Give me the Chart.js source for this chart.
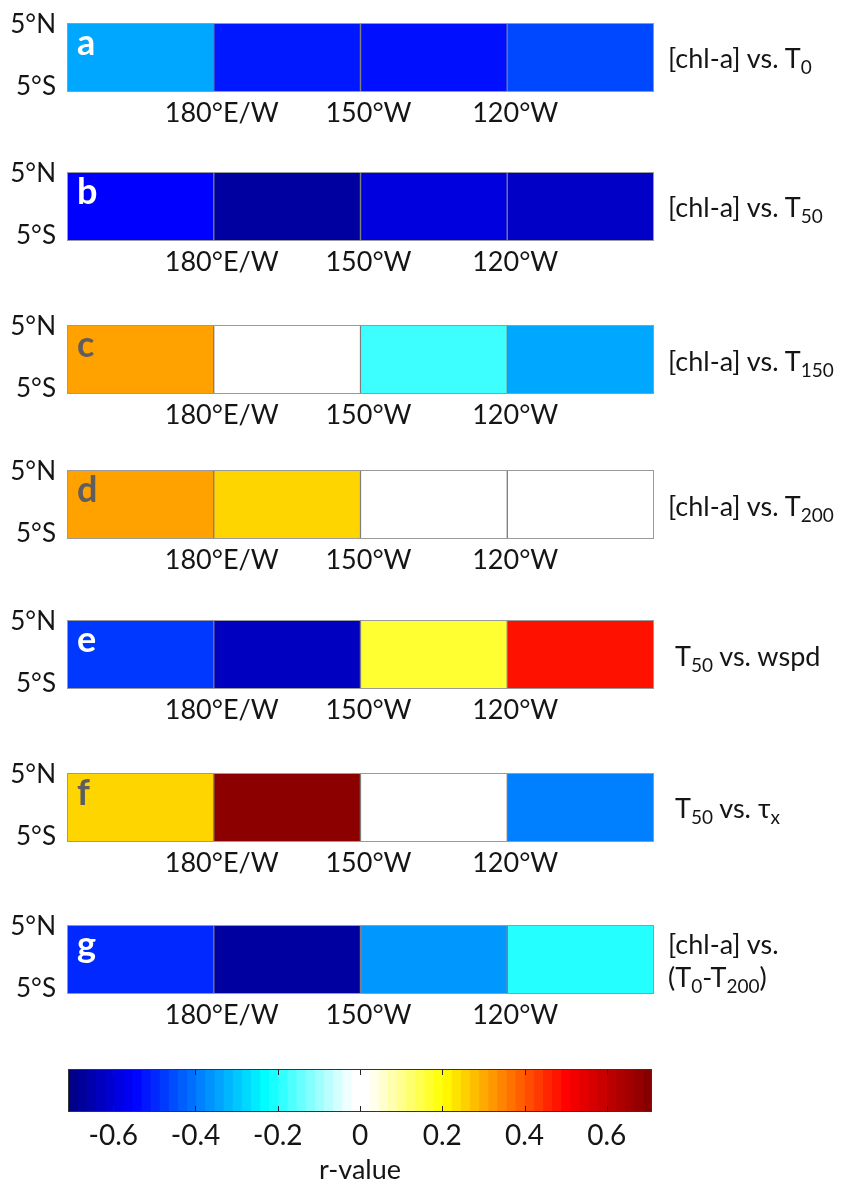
<!DOCTYPE html>
<html>
<head>
<meta charset="utf-8">
<script src="https://cdn.jsdelivr.net/npm/chart.js@4.4.0/dist/chart.umd.min.js"></script>
<style>
  body { margin: 0; background: #ffffff; font-family: Lato, "Open Sans", sans-serif; }
  #page { position: relative; width: 850px; height: 1186px; overflow: hidden; background: #ffffff; }
  .panel { position: absolute; left: 0; width: 850px; height: 150px; }
  .cbar { position: absolute; left: 0; width: 850px; height: 146px; }
  .title { position: absolute; left: 668px; font-family: Lato, "DejaVu Sans", sans-serif; font-size: 27px;
           color: #151515; line-height: 33px; white-space: nowrap; transform: translateY(-50%); }
  .title sub { font-size: 19px; vertical-align: -6px; line-height: 0; }
</style>
</head>
<body>
<div id="page"></div>
<script>
// Longitude cell edges (degrees east) and axis labels
const lonEdges = [150, 180, 210, 240, 270];
const lonTicks = [180, 210, 240];
const lonTickLabels = ['180°E/W', '150°W', '120°W'];
const latTicks = [-5, 5];
const latTickLabels = ['5°S', '5°N'];

// Correlation coefficients per 30° box (null = not significant)
const rA = [-0.34, -0.52, -0.53, -0.46];
const rB = [-0.55, -0.67, -0.59, -0.62];
const rC = [0.31, null, -0.18, -0.34];
const rD = [0.31, 0.25, null, null];
const rE = [-0.48, -0.63, 0.165, 0.48];
const rF = [0.25, 0.69, null, -0.39];
const rG = [-0.50, -0.67, -0.36, -0.20];

const panelLetters = ['a', 'b', 'c', 'd', 'e', 'f', 'g'];
const panelTitles = [
  '[chl-a] vs. T<sub>0</sub>',
  '[chl-a] vs. T<sub>50</sub>',
  '[chl-a] vs. T<sub>150</sub>',
  '[chl-a] vs. T<sub>200</sub>',
  'T<sub>50</sub> vs. wspd',
  'T<sub>50</sub> vs. τ<sub>x</sub>',
  '[chl-a] vs.<br>(T<sub>0</sub>-T<sub>200</sub>)'
];

// Colour scale
const cbarMin = -0.71;
const cbarMax = 0.71;
const cbarLevels = 64;
const cbarTicks = [-0.6, -0.4, -0.2, 0, 0.2, 0.4, 0.6];
const cmapStops = [
  [-0.71, [0, 0, 128]],
  [-0.55, [0, 0, 255]],
  [-0.23, [0, 255, 255]],
  [-0.02, [255, 255, 255]],
  [0.02, [255, 255, 255]],
  [0.2, [255, 255, 0]],
  [0.5, [255, 0, 0]],
  [0.71, [128, 0, 0]]
];

function colormap(v) {
  if (v === null) return 'rgb(255,255,255)';
  if (v <= cmapStops[0][0]) return 'rgb(' + cmapStops[0][1].join(',') + ')';
  for (let i = 1; i < cmapStops.length; i++) {
    const [v1, c1] = cmapStops[i];
    const [v0, c0] = cmapStops[i - 1];
    if (v <= v1) {
      const t = (v - v0) / (v1 - v0);
      const c = c0.map((x, k) => Math.round(x + (c1[k] - x) * t));
      return 'rgb(' + c.join(',') + ')';
    }
  }
  return 'rgb(' + cmapStops[cmapStops.length - 1][1].join(',') + ')';
}

// Layout of the strips on the page
const panelBoxTops = [22.7, 171.7, 325, 470, 620, 772.7, 925];
const boxHeight = 69;
const letterColors = ['#ffffff', '#ffffff', '#5e5e5e', '#5e5e5e', '#ffffff', '#5e5e5e', '#ffffff'];

// Frame around the plot area plus the panel letter
const panelDecor = {
  id: 'panelDecor',
  afterDatasetsDraw(chart, args, opts) {
    const { ctx, chartArea: a } = chart;
    ctx.save();
    ctx.strokeStyle = '#9a9a9a';
    ctx.lineWidth = 1;
    ctx.strokeRect(Math.round(a.left) + 0.5, Math.round(a.top) + 0.5,
                   Math.round(a.right - a.left) - 1, Math.round(a.bottom - a.top) - 1);
    if (opts.letter) {
      ctx.font = 'bold 36px Lato';
      ctx.fillStyle = opts.letterColor;
      ctx.textBaseline = 'alphabetic';
      ctx.textAlign = 'left';
      ctx.fillText(opts.letter, a.left + 10, a.top + 32);
    }
    ctx.restore();
  }
};

// Inward tick marks and outline of the colour bar
const cbarTickMarks = {
  id: 'cbarTickMarks',
  afterDatasetsDraw(chart) {
    const { ctx, chartArea: a } = chart;
    const xs = chart.scales.x;
    ctx.save();
    ctx.strokeStyle = '#222222';
    ctx.lineWidth = 1;
    cbarTicks.forEach(v => {
      const x = Math.round(xs.getPixelForValue(v)) + 0.5;
      ctx.beginPath();
      ctx.moveTo(x, a.top); ctx.lineTo(x, a.top + 6);
      ctx.moveTo(x, a.bottom); ctx.lineTo(x, a.bottom - 6);
      ctx.stroke();
    });
    ctx.strokeStyle = '#333333';
    ctx.strokeRect(Math.round(a.left) + 0.5, Math.round(a.top) + 0.5,
                   Math.round(a.right - a.left) - 1, Math.round(a.bottom - a.top) - 1);
    ctx.restore();
  }
};

const page = document.getElementById('page');

function makePanel(idx, values) {
  const wrap = document.createElement('div');
  wrap.className = 'panel';
  wrap.style.top = (panelBoxTops[idx] - 20) + 'px';
  const canvas = document.createElement('canvas');
  canvas.width = 850; canvas.height = 150;
  wrap.appendChild(canvas);
  page.appendChild(wrap);

  const title = document.createElement('div');
  title.className = 'title';
  title.style.top = (panelBoxTops[idx] + boxHeight / 2) + 'px';
  title.innerHTML = panelTitles[idx];
  if (idx === 4 || idx === 5) title.style.left = '675px';
  page.appendChild(title);

  const datasets = values.map((v, i) => ({
    data: [[lonEdges[i], lonEdges[i + 1]]],
    backgroundColor: colormap(v),
    borderColor: 'rgba(45,45,45,0.55)',
    borderWidth: 1,
    borderSkipped: false,
    barPercentage: 1,
    categoryPercentage: 1,
    grouped: false
  }));

  new Chart(canvas, {
    type: 'bar',
    data: { labels: ['EQ'], datasets },
    options: {
      indexAxis: 'y',
      responsive: false,
      animation: false,
      events: [],
      layout: { padding: { top: 20, right: 196, left: 0, bottom: 0 } },
      plugins: {
        legend: { display: false },
        tooltip: { enabled: false },
        panelDecor: { letter: panelLetters[idx], letterColor: letterColors[idx] }
      },
      scales: {
        x: {
          type: 'linear', min: lonEdges[0], max: lonEdges[lonEdges.length - 1],
          grid: { display: false, drawTicks: false }, border: { display: false },
          afterBuildTicks: s => { s.ticks = lonTicks.map(v => ({ value: v })); },
          afterFit: s => { s.height = 150 - 20 - boxHeight; },
          ticks: {
            callback: v => lonTickLabels[lonTicks.indexOf(v)],
            font: { family: 'Lato', size: 27 }, color: '#151515', padding: 5, labelOffset: 8,
            maxRotation: 0, autoSkip: false
          }
        },
        y: { display: false },
        lat: {
          type: 'linear', axis: 'y', position: 'left', min: -5.8, max: 5.32,
          offset: false, beginAtZero: false,
          grid: { display: true, drawOnChartArea: false, drawTicks: true, tickLength: 11,
                  tickColor: 'rgba(0,0,0,0)', offset: false },
          border: { display: false },
          afterBuildTicks: s => { s.ticks = latTicks.map(v => ({ value: v })); },
          afterFit: s => { s.width = 67; },
          ticks: {
            callback: v => latTickLabels[latTicks.indexOf(v)],
            font: { family: 'Lato', size: 26 }, color: '#151515', padding: 0, autoSkip: false
          }
        }
      }
    },
    plugins: [panelDecor]
  });
}

[rA, rB, rC, rD, rE, rF, rG].forEach((vals, i) => makePanel(i, vals));

// Colour bar
(function makeColorbar() {
  const wrap = document.createElement('div');
  wrap.className = 'cbar';
  wrap.style.top = '1040px';
  const canvas = document.createElement('canvas');
  canvas.width = 850; canvas.height = 146;
  wrap.appendChild(canvas);
  page.appendChild(wrap);

  const step = (cbarMax - cbarMin) / cbarLevels;
  const datasets = [];
  for (let i = 0; i < cbarLevels; i++) {
    const lo = cbarMin + i * step;
    const hi = lo + step;
    datasets.push({
      data: [[lo, hi + (i < cbarLevels - 1 ? step * 0.02 : 0)]],
      backgroundColor: colormap((lo + hi) / 2),
      borderWidth: 0,
      barPercentage: 1,
      categoryPercentage: 1,
      grouped: false
    });
  }

  new Chart(canvas, {
    type: 'bar',
    data: { labels: ['r'], datasets },
    options: {
      indexAxis: 'y',
      responsive: false,
      animation: false,
      events: [],
      layout: { padding: { top: 29, right: 198, left: 68, bottom: 0 } },
      plugins: { legend: { display: false }, tooltip: { enabled: false } },
      scales: {
        x: {
          type: 'linear', min: cbarMin, max: cbarMax,
          grid: { display: false, drawTicks: false }, border: { display: false },
          afterBuildTicks: s => { s.ticks = cbarTicks.map(v => ({ value: v })); },
          afterFit: s => { s.height = 146 - 72; },
          ticks: {
            callback: v => (Math.abs(v) < 1e-9 ? '0' : v.toFixed(1)),
            font: { family: 'Lato', size: 28 }, color: '#151515', padding: 7, maxRotation: 0, autoSkip: false
          },
          title: {
            display: true, text: 'r-value',
            font: { family: 'Lato', size: 27 }, color: '#151515', padding: { top: 0, bottom: 0 }
          }
        },
        y: { display: false }
      }
    },
    plugins: [cbarTickMarks]
  });
})();
</script>
</body>
</html>
